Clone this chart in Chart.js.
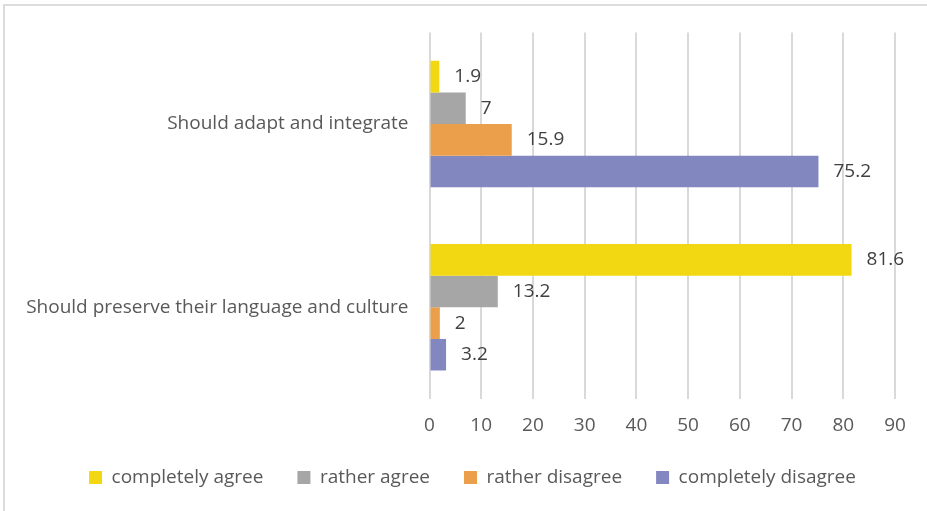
<!DOCTYPE html>
<html>
<head>
<meta charset="utf-8">
<script src="https://cdn.jsdelivr.net/npm/chart.js@4"></script>
<style>
  body { margin: 0; background: #fff; }
  #wrap { position: relative; width: 927px; height: 511px; }
  #frame { position: absolute; left: 3px; top: 4px; width: 940px; height: 520px;
           border-left: 2px solid #dcdcdc; border-top: 2px solid #dcdcdc; pointer-events: none; }
</style>
</head>
<body>
<div id="wrap">
  <canvas id="bars" width="927" height="511"></canvas>
  <div id="frame"></div>
</div>
<script>
var categories = ['Should adapt and integrate', 'Should preserve their language and culture'];
var completelyAgree = [1.9, 81.6];
var ratherAgree = [7, 13.2];
var ratherDisagree = [15.9, 2];
var completelyDisagree = [75.2, 3.2];
var txt = '#595959';
var fnt = "'Open Sans', sans-serif";
var fsize = 19;

// value labels to the right of each bar
var valueLabels = {
    id: 'valueLabels',
    afterDatasetsDraw: function (chart) {
        var c = chart.ctx;
        c.save();
        c.font = fsize + 'px ' + fnt;
        c.fillStyle = '#404040';
        c.textBaseline = 'middle';
        chart.data.datasets.forEach(function (ds, i) {
            chart.getDatasetMeta(i).data.forEach(function (bar, j) {
                c.fillText(String(ds.data[j]), bar.x + 15, bar.y);
            });
        });
        c.restore();
    }
};

// nudge the legend so it is centred a bit more to the right, like the original
var legendShift = {
    id: 'legendShift',
    beforeDraw: function (chart) {
        if (chart.legend) chart.legend.left = 50;
    }
};

var ctx = document.getElementById('bars').getContext('2d');
var myChart = new Chart(ctx, {
    type: 'bar',
    data: {
        labels: categories,
        datasets: [
            { label: 'completely agree', data: completelyAgree, backgroundColor: 'rgb(242, 216, 18)' },
            { label: 'rather agree', data: ratherAgree, backgroundColor: 'rgb(166, 166, 166)' },
            { label: 'rather disagree', data: ratherDisagree, backgroundColor: 'rgb(236, 159, 75)' },
            { label: 'completely disagree', data: completelyDisagree, backgroundColor: 'rgb(131, 135, 192)' }
        ]
    },
    options: {
        indexAxis: 'y',
        responsive: false,
        animation: false,
        layout: { padding: { left: 0, right: 32, top: 32, bottom: 14 } },
        datasets: { bar: { categoryPercentage: 0.69, barPercentage: 1 } },
        scales: {
            x: {
                min: 0, max: 90,
                ticks: { stepSize: 10, color: txt, font: { size: fsize, family: fnt }, padding: 15 },
                grid: { color: '#d9d9d9', lineWidth: 2, drawTicks: false },
                border: { display: false },
                afterFit: function (s) { s.height = 35; }
            },
            y: {
                ticks: { color: txt, font: { size: fsize, family: fnt }, padding: 21 },
                grid: { display: false, drawTicks: false },
                border: { display: false },
                afterFit: function (s) { s.width = 429.5; }
            }
        },
        plugins: {
            legend: {
                position: 'bottom',
                labels: { boxWidth: 13, boxHeight: 13, padding: 34, color: txt, font: { size: fsize, family: fnt } }
            },
            tooltip: { enabled: false }
        }
    },
    plugins: [valueLabels, legendShift]
});
</script>
</body>
</html>
